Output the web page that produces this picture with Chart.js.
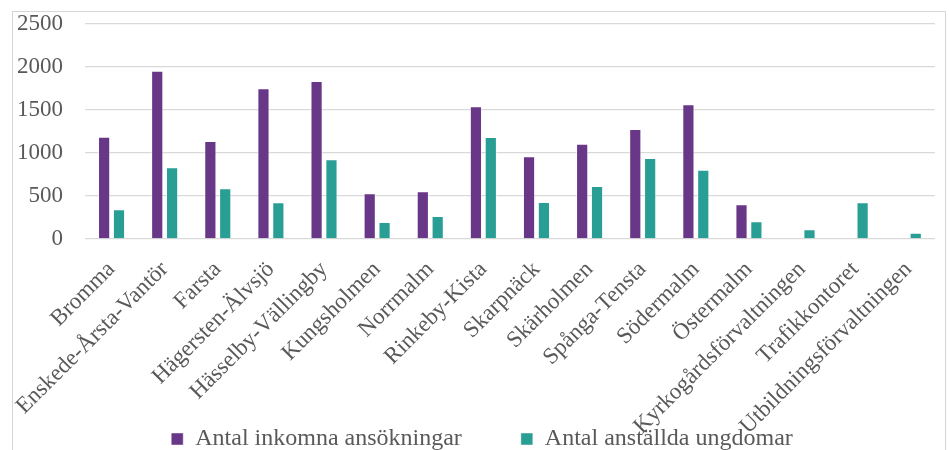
<!DOCTYPE html>
<html>
<head>
<meta charset="utf-8">
<script src="https://cdn.jsdelivr.net/npm/chart.js@4.4.1/dist/chart.umd.min.js"></script>
<style>
    html, body { margin: 0; padding: 0; background: #fff; overflow: hidden; }
    #frame {
        position: absolute;
        left: 12px;
        top: 11px;
        width: 932px;
        height: 449px;
        border: 1px solid #d6d6d6;
    }
    #salesChart { display: block; }
</style>
</head>
<body>
<div id="frame"><canvas id="salesChart" width="932" height="449"></canvas></div>
<script>
// chart data
const categories = [
    "Bromma", "Enskede-Årsta-Vantör", "Farsta", "Hägersten-Älvsjö", "Hässelby-Vällingby",
    "Kungsholmen", "Norrmalm", "Rinkeby-Kista", "Skarpnäck", "Skärholmen",
    "Spånga-Tensta", "Södermalm", "Östermalm", "Kyrkogårdsförvaltningen",
    "Trafikkontoret", "Utbildningsförvaltningen"
];
const applications = [1190, 1957, 1140, 1752, 1837, 531, 555, 1543, 962, 1109, 1279, 1566, 403, null, null, null];
const hired = [345, 834, 589, 427, 927, 198, 267, 1186, 430, 616, 942, 806, 205, 112, 427, 74];
const yTicks = [0, 500, 1000, 1500, 2000, 2500];

const textColor = '#595959';
const fontFamily = "'Liberation Serif', 'Times New Roman', serif";

Chart.defaults.font.family = fontFamily;
Chart.defaults.color = textColor;

const ctx = document.getElementById('salesChart').getContext('2d');
const chart = new Chart(ctx, {
    type: 'bar',
    data: {
        labels: categories,
        datasets: [
            {
                label: 'Antal inkomna ansökningar',
                data: applications,
                backgroundColor: '#683787',
                borderColor: 'rgba(255,255,255,0.45)',
                borderWidth: 1,
                categoryPercentage: 0.56,
                barPercentage: 0.82
            },
            {
                label: 'Antal anställda ungdomar',
                data: hired,
                backgroundColor: '#289e94',
                borderColor: 'rgba(255,255,255,0.45)',
                borderWidth: 1,
                categoryPercentage: 0.56,
                barPercentage: 0.82
            }
        ]
    },
    options: {
        responsive: false,
        animation: false,
        layout: {
            padding: { top: 12, right: 6, left: 12, bottom: 0 }
        },
        plugins: {
            tooltip: { enabled: false },
            legend: {
                display: true,
                position: 'bottom',
                labels: {
                    boxWidth: 12,
                    boxHeight: 12,
                    padding: 59,
                    color: textColor,
                    font: { family: fontFamily, size: 24 }
                }
            }
        },
        scales: {
            x: {
                grid: { display: false, drawTicks: false },
                border: { display: false },
                afterFit: (scale) => {
                    scale.height = 129;
                    // long labels run over the legend, like the original
                    scale._computeLabelArea = () => undefined;
                },
                ticks: {
                    autoSkip: false,
                    minRotation: 45,
                    maxRotation: 45,
                    padding: 17,
                    color: textColor,
                    font: { family: fontFamily, size: 23 }
                }
            },
            y: {
                min: 0,
                max: 2500,
                afterFit: (scale) => {
                    scale.width = 60;
                    scale._computeLabelArea = () => undefined;
                },
                afterBuildTicks: (scale) => {
                    scale.ticks = yTicks.map(v => ({ value: v }));
                },
                grid: {
                    color: '#d9d9d9',
                    lineWidth: 1.3,
                    drawTicks: true,
                    tickLength: 22,
                    tickColor: 'rgba(0,0,0,0)'
                },
                border: { display: false },
                ticks: {
                    padding: 0,
                    color: textColor,
                    font: { family: fontFamily, size: 23, lineHeight: 1 },
                    callback: (value) => String(value)
                }
            }
        }
    }
});
</script>
</body>
</html>
